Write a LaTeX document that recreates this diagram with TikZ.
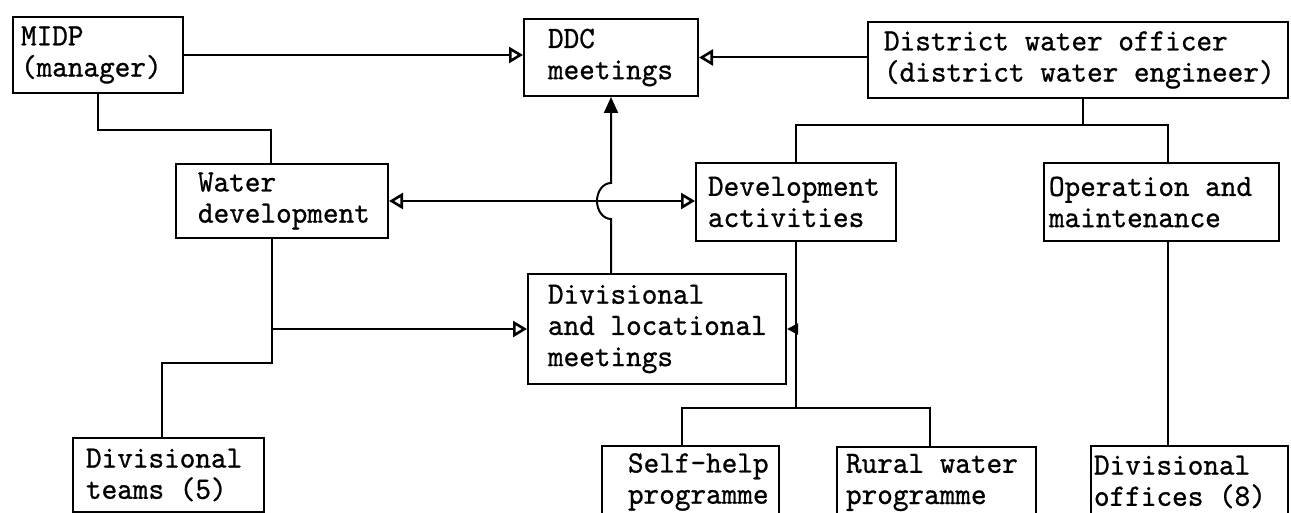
\documentclass[tikz,border=0pt]{standalone}
\usepackage{fontspec}
\newfontfamily\tw{lmmono10-regular.otf}[FakeStretch=0.96, FakeBold=0.8]
\usetikzlibrary{arrows.meta,calc}

\tikzset{
  openhead/.tip={Triangle[open,length=7pt,width=8pt,line width=1.3pt]},
  fullhead/.tip={Triangle[length=8pt,width=7pt]},
  smallhead/.tip={Triangle[length=5.5pt,width=5.5pt]},
  unit/.style={draw, rectangle, anchor=north west, inner sep=0pt},
  caption/.style={anchor=west, align=left, inner sep=0pt,
    font=\tw\fontsize{15.5pt}{15.6pt}\selectfont},
}

\begin{document}
\begin{tikzpicture}[x=0.5pt, y=-0.5pt, line width=1pt]
  \fill[white] (0,0) rectangle (1291,513);
  \useasboundingbox (0,0) rectangle (1291,513);

  % top row
  \node[unit, minimum width=85pt, minimum height=38pt,
        label={[caption, xshift=4pt]west:{MIDP\\(manager)}}] (midp) at (12,16) {};
  \node[unit, minimum width=87pt, minimum height=38.5pt,
        label={[caption, xshift=12pt]west:{DDC\\meetings}}] (ddc) at (523,18) {};
  \node[unit, minimum width=210pt, minimum height=38pt,
        label={[caption, xshift=8pt]west:{District water officer\\(district water engineer)}}] (dwo) at (867,21) {};

  % middle row
  \node[unit, minimum width=106pt, minimum height=37pt,
        label={[caption, xshift=11pt]west:{Water\\development}}] (wd) at (175,163) {};
  \node[unit, minimum width=100pt, minimum height=39pt,
        label={[caption, xshift=6pt]west:{Development\\activities}}] (da) at (695,162) {};
  \node[unit, minimum width=117.5pt, minimum height=39pt,
        label={[caption, xshift=2.5pt]west:{Operation and\\maintenance}}] (om) at (1043,162) {};
  \node[unit, minimum width=129pt, minimum height=55pt,
        label={[caption, xshift=10pt]west:{Divisional\\and locational\\meetings}}] (dlm) at (527,273) {};

  % bottom row (the last three run on past the lower edge)
  \node[unit, minimum width=95.5pt, minimum height=37pt,
        label={[caption, xshift=6.5pt]west:{Divisional\\teams (5)}}] (dt) at (72,437) {};
  \node[unit, minimum width=88.5pt, minimum height=36pt,
        label={[caption, xshift=13pt]west:{Self-help\\programme}}] (sh) at (601,445) {};
  \node[unit, minimum width=99.5pt, minimum height=35.5pt,
        label={[caption, xshift=4.5pt]west:{Rural water\\programme}}] (rw) at (836,446) {};
  \node[unit, minimum width=98.5pt, minimum height=36pt,
        label={[caption, xshift=1.5pt]west:{Divisional\\offices (8)}}] (do) at (1090,445) {};

  % rails for the tree connectors
  \coordinate (railA) at (0,130);
  \coordinate (railB) at (0,125);
  \coordinate (railC) at (0,363);
  \coordinate (railD) at (0,408);

  % reporting lines into the DDC
  \draw[-{openhead}] (midp.east) -- (midp.east -| ddc.west);
  \draw[-{openhead}] (ddc.east -| dwo.west) -- (ddc.east);

  % MIDP to water development
  \coordinate (wdtop) at ($(wd.north)+(-11,0)$);
  \draw (midp.south) -- (midp.south |- railA) -| (wdtop);

  % water development to divisional teams and divisional meetings
  \coordinate (wdbot) at ($(wd.south)+(-10,0)$);
  \coordinate (dttop) at ($(dt.north)+(-7,0)$);
  \draw (wdbot) -- (wdbot |- railC) -| (dttop);
  \draw[-{openhead}] (wdbot |- dlm.west) -- (dlm.west);

  % water development <-> development activities
  \draw[{openhead}-{openhead}] (wd.east) -- (wd.east -| da.west);

  % divisional meetings up to the DDC, hopping over the link above
  \coordinate (hop) at (wd.east -| ddc.south);
  \draw[-{fullhead}] (dlm.north -| ddc.south) -- ($(hop)+(0,18)$)
    arc[start angle=90, end angle=270, x radius=14, y radius=18] -- (ddc.south);

  % district water officer branches
  \coordinate (dwobot) at ($(dwo.south)+(5,0)$);
  \coordinate (omtop) at ($(om.north)+(6,0)$);
  \draw (dwobot) -- (dwobot |- railB);
  \draw (da.north) |- (omtop |- railB) -- (omtop);

  % development activities branches
  \coordinate (shtop) at ($(sh.north)+(-9,0)$);
  \coordinate (rwtop) at ($(rw.north)+(-7,0)$);
  \draw (da.south) -- (da.south |- railD);
  \draw (shtop) |- (rwtop |- railD) -- (rwtop);
  \draw[-{smallhead}] (dlm.east -| da.south) -- (dlm.east);

  % operation and maintenance to divisional offices
  \coordinate (ombot) at ($(om.south)+(6,0)$);
  \draw (ombot) -- (ombot |- do.north);
\end{tikzpicture}
\end{document}
